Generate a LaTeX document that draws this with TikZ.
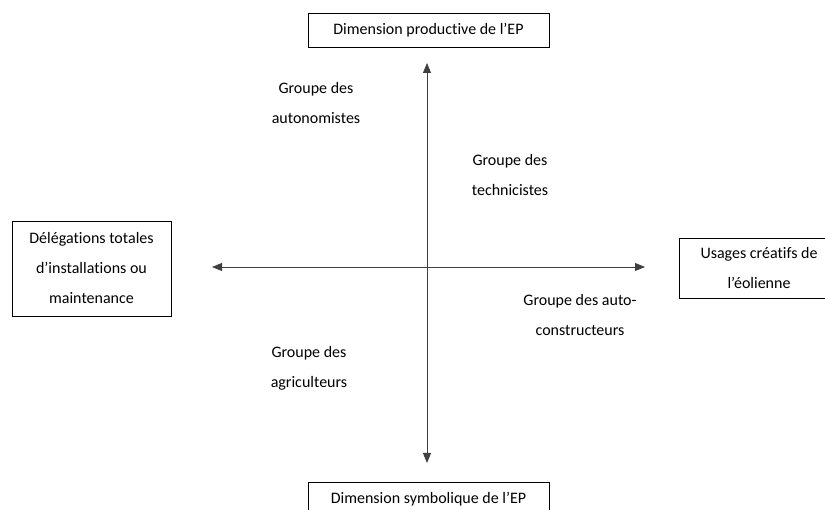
\documentclass[tikz,border=0pt]{standalone}
\usepackage{fontspec}
\setmainfont{Carlito}[Ligatures=NoCommon]
\usetikzlibrary{arrows.meta}
\tikzset{
  dimbox/.style={draw, line width=0.8pt, align=center, inner sep=0pt,
    font=\fontsize{16}{30}\selectfont},
  groupe/.style={align=center, inner sep=0pt, font=\fontsize{16}{30}\selectfont},
  axe/.style={line width=0.8pt, draw=black!75,
    {Triangle[length=10pt,width=8pt]}-{Triangle[length=10pt,width=8pt]}}
}
\begin{document}
\begin{tikzpicture}[x=1pt, y=-1pt]
	\useasboundingbox (0,0) rectangle (825,510);
	% Boxes
	\node[dimbox, minimum width=241pt, minimum height=34pt] (prod) at (428.5,30) {Dimension productive de l'EP};
	\node[dimbox, minimum width=241pt, minimum height=34pt] (symb) at (428.5,499) {Dimension symbolique de l'EP};
	\node[dimbox, minimum width=159pt, minimum height=95pt] (deleg) at (91.5,268.5) {Délégations totales\\d'installations ou\\maintenance};
	\node[dimbox, minimum width=160pt, minimum height=60pt] (usages) at (759,268) {Usages créatifs de\\l'éolienne};
	% Axes
	\coordinate (haut) at (427,63);
	\coordinate (bas) at (427,463);
	\coordinate (gauche) at (212,267);
	\coordinate (droite) at (645,267);
	\draw[axe] (haut) -- (bas);
	\draw[axe] (gauche) -- (droite);
	% Groups
	\node[groupe] (autonom) at (316,103) {Groupe des\\autonomistes};
	\node[groupe] (technic) at (510,175) {Groupe des\\technicistes};
	\node[groupe] (autocons) at (580,315) {Groupe des auto-\\constructeurs};
	\node[groupe] (agric) at (309,368) {Groupe des\\agriculteurs};
\end{tikzpicture}
\end{document}
